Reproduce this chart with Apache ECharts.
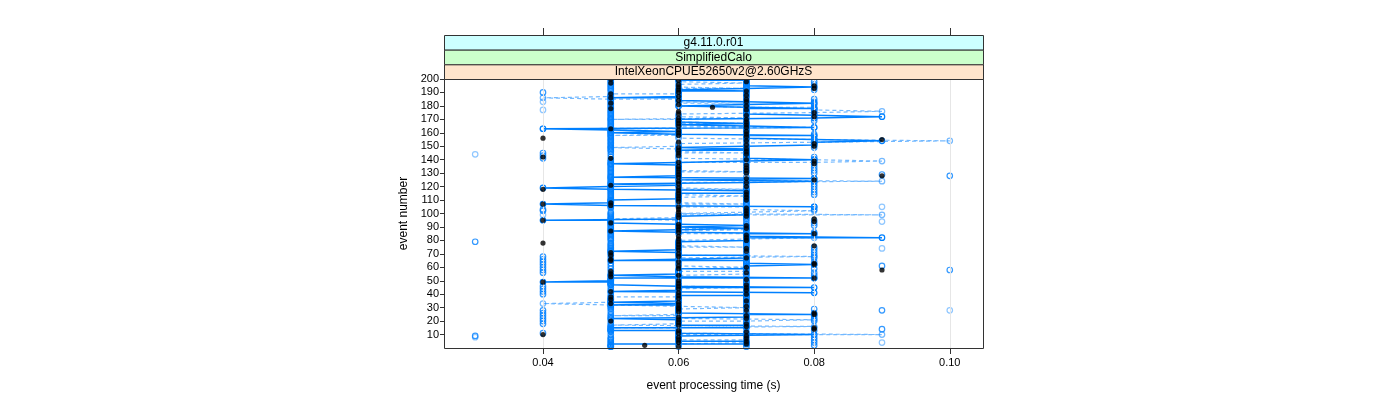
<!DOCTYPE html>
<html><head><meta charset="utf-8">
<script src="https://cdn.jsdelivr.net/npm/echarts@6/dist/echarts.min.js"></script>
<style>html,body{margin:0;padding:0;background:#fff}#c{width:1400px;height:400px}</style>
</head><body><div id="c"></div>
<script>
// ---- data (event processing time in seconds, event 1..200) ----
const stripLabels = ['g4.11.0.r01', 'SimplifiedCalo', 'IntelXeonCPUE52650v2@2.60GHzS'];
const xTicks = [0.04, 0.06, 0.08, 0.10];
const yTicks = [10,20,30,40,50,60,70,80,90,100,110,120,130,140,150,160,170,180,190,200];
const events = Array.from({length: 200}, (_, i) => i + 1);

// run drawn with solid step line + open circles
const solidRun = [
0.05,0.05,0.07,0.07,0.06,0.06,0.06,0.06,0.06,0.08,
0.06,0.06,0.05,0.05,0.07,0.07,0.06,0.06,0.06,0.06,
0.06,0.05,0.07,0.07,0.08,0.06,0.06,0.06,0.06,0.06,
0.06,0.05,0.06,0.05,0.06,0.06,0.06,0.06,0.07,0.07,
0.08,0.05,0.06,0.06,0.08,0.06,0.05,0.05,0.04,0.05,
0.05,0.08,0.06,0.05,0.06,0.06,0.06,0.06,0.07,0.07,
0.07,0.08,0.07,0.07,0.05,0.06,0.07,0.07,0.06,0.06,
0.06,0.05,0.06,0.06,0.06,0.06,0.06,0.06,0.06,0.07,
0.07,0.09,0.07,0.07,0.08,0.06,0.05,0.06,0.07,0.06,
0.07,0.06,0.05,0.05,0.04,0.06,0.06,0.06,0.07,0.07,
0.07,0.07,0.07,0.07,0.08,0.05,0.04,0.05,0.05,0.05,
0.06,0.06,0.06,0.06,0.07,0.07,0.07,0.05,0.04,0.05,
0.06,0.05,0.07,0.08,0.06,0.08,0.05,0.06,0.06,0.06,
0.06,0.06,0.06,0.06,0.06,0.06,0.05,0.06,0.07,0.08,
0.07,0.07,0.07,0.07,0.07,0.07,0.06,0.07,0.06,0.07,
0.08,0.08,0.08,0.09,0.08,0.07,0.07,0.08,0.06,0.05,
0.06,0.05,0.04,0.08,0.07,0.06,0.07,0.06,0.06,0.06,
0.08,0.09,0.08,0.07,0.07,0.07,0.07,0.08,0.07,0.06,
0.07,0.08,0.07,0.06,0.06,0.05,0.06,0.06,0.06,0.06,
0.07,0.06,0.07,0.08,0.07,0.07,0.07,0.07,0.06,0.07];

// run drawn with dashed step line + light open circles
const dashedRun = [
0.06,0.06,0.06,0.07,0.07,0.06,0.06,0.06,0.06,0.09,
0.06,0.06,0.06,0.06,0.05,0.08,0.05,0.06,0.06,0.07,
0.08,0.06,0.06,0.05,0.06,0.06,0.06,0.06,0.06,0.07,
0.06,0.05,0.04,0.05,0.05,0.05,0.05,0.06,0.06,0.06,
0.06,0.06,0.06,0.06,0.07,0.06,0.06,0.06,0.06,0.06,
0.06,0.06,0.06,0.06,0.07,0.07,0.06,0.06,0.06,0.07,
0.06,0.06,0.06,0.06,0.06,0.06,0.06,0.08,0.06,0.06,
0.06,0.06,0.06,0.06,0.07,0.06,0.06,0.06,0.06,0.06,
0.07,0.08,0.07,0.07,0.06,0.06,0.06,0.07,0.06,0.06,
0.06,0.06,0.06,0.06,0.06,0.05,0.06,0.06,0.09,0.06,
0.07,0.08,0.07,0.07,0.06,0.06,0.07,0.06,0.06,0.06,
0.06,0.06,0.07,0.06,0.06,0.06,0.06,0.07,0.06,0.06,
0.06,0.06,0.06,0.09,0.06,0.06,0.06,0.06,0.06,0.06,
0.07,0.06,0.06,0.06,0.06,0.06,0.06,0.08,0.09,0.08,
0.06,0.06,0.06,0.06,0.07,0.06,0.06,0.06,0.05,0.06,
0.06,0.06,0.08,0.10,0.08,0.06,0.06,0.05,0.06,0.06,
0.06,0.06,0.04,0.08,0.06,0.06,0.07,0.06,0.06,0.05,
0.07,0.06,0.06,0.06,0.08,0.09,0.08,0.08,0.07,0.06,
0.06,0.07,0.06,0.06,0.05,0.04,0.05,0.05,0.06,0.06,
0.06,0.06,0.07,0.06,0.06,0.06,0.07,0.06,0.06,0.06];

// run drawn with black filled dots
const blackRun = [
0.06,0.055,0.07,0.06,0.07,0.06,0.07,0.06,0.07,0.04,
0.06,0.07,0.06,0.08,0.08,0.07,0.06,0.07,0.06,0.05,
0.06,0.07,0.06,0.07,0.08,0.08,0.06,0.07,0.06,0.06,
0.07,0.06,0.05,0.06,0.07,0.05,0.06,0.05,0.06,0.07,
0.06,0.05,0.07,0.06,0.07,0.06,0.07,0.06,0.04,0.06,
0.07,0.08,0.05,0.06,0.05,0.07,0.05,0.09,0.06,0.07,
0.06,0.08,0.08,0.06,0.05,0.05,0.07,0.06,0.05,0.06,
0.05,0.07,0.06,0.07,0.06,0.08,0.06,0.04,0.06,0.07,
0.06,0.07,0.06,0.07,0.08,0.06,0.05,0.06,0.07,0.06,
0.07,0.06,0.05,0.08,0.04,0.08,0.06,0.07,0.06,0.07,
0.06,0.07,0.06,0.07,0.06,0.05,0.04,0.05,0.06,0.07,
0.06,0.07,0.06,0.07,0.06,0.07,0.06,0.04,0.06,0.07,
0.05,0.06,0.07,0.06,0.08,0.07,0.06,0.09,0.06,0.07,
0.06,0.07,0.06,0.07,0.06,0.07,0.08,0.06,0.08,0.07,
0.05,0.04,0.06,0.07,0.06,0.07,0.06,0.07,0.06,0.08,
0.07,0.08,0.06,0.07,0.09,0.04,0.07,0.06,0.07,0.06,
0.07,0.06,0.05,0.07,0.06,0.07,0.06,0.07,0.06,0.07,
0.06,0.08,0.07,0.06,0.08,0.06,0.07,0.05,0.065,0.07,
0.06,0.05,0.07,0.06,0.07,0.05,0.06,0.07,0.05,0.06,
0.07,0.06,0.08,0.06,0.08,0.06,0.05,0.07,0.06,0.05];

// further runs drawn as open circles only
const circleRunA = [
0.05,0.05,0.05,0.05,0.05,0.05,0.05,0.05,0.03,0.05,
0.04,0.05,0.05,0.05,0.05,0.05,0.05,0.04,0.05,0.04,
0.05,0.04,0.05,0.04,0.05,0.04,0.05,0.04,0.05,0.05,
0.05,0.05,0.05,0.05,0.05,0.05,0.05,0.05,0.05,0.04,
0.05,0.04,0.05,0.04,0.05,0.04,0.05,0.05,0.05,0.05,
0.05,0.05,0.05,0.05,0.05,0.04,0.05,0.04,0.05,0.04,
0.05,0.04,0.05,0.04,0.05,0.04,0.05,0.04,0.05,0.05,
0.05,0.05,0.05,0.05,0.05,0.05,0.05,0.05,0.03,0.05,
0.05,0.05,0.05,0.05,0.05,0.05,0.05,0.05,0.05,0.05,
0.05,0.05,0.05,0.05,0.05,0.05,0.05,0.05,0.05,0.05,
0.05,0.04,0.04,0.05,0.05,0.05,0.05,0.05,0.05,0.05,
0.05,0.05,0.05,0.05,0.05,0.05,0.05,0.05,0.05,0.05,
0.05,0.05,0.05,0.05,0.05,0.05,0.05,0.05,0.05,0.05,
0.05,0.05,0.05,0.05,0.05,0.05,0.05,0.05,0.05,0.05,
0.04,0.05,0.04,0.05,0.04,0.05,0.05,0.05,0.05,0.05,
0.05,0.05,0.05,0.05,0.05,0.05,0.05,0.05,0.05,0.05,
0.05,0.05,0.05,0.05,0.05,0.05,0.05,0.05,0.05,0.05,
0.05,0.05,0.05,0.05,0.05,0.05,0.05,0.05,0.05,0.05,
0.05,0.05,0.05,0.05,0.05,0.05,0.05,0.05,0.05,0.04,
0.05,0.05,0.05,0.05,0.05,0.05,0.05,0.05,0.05,0.05];

const circleRunB = [
0.07,0.08,0.07,0.08,0.07,0.08,0.07,0.08,0.07,0.07,
0.07,0.07,0.08,0.09,0.08,0.07,0.07,0.07,0.07,0.08,
0.07,0.08,0.07,0.08,0.07,0.08,0.07,0.09,0.08,0.07,
0.07,0.07,0.07,0.07,0.07,0.07,0.07,0.07,0.07,0.07,
0.07,0.07,0.07,0.07,0.07,0.07,0.07,0.07,0.07,0.07,
0.07,0.08,0.07,0.08,0.07,0.08,0.07,0.10,0.08,0.07,
0.09,0.08,0.07,0.08,0.07,0.07,0.08,0.07,0.08,0.07,
0.08,0.07,0.08,0.07,0.08,0.07,0.07,0.07,0.07,0.07,
0.07,0.07,0.07,0.08,0.07,0.08,0.07,0.07,0.07,0.07,
0.08,0.07,0.08,0.07,0.08,0.07,0.07,0.07,0.07,0.07,
0.07,0.07,0.08,0.07,0.08,0.07,0.07,0.07,0.07,0.07,
0.07,0.07,0.07,0.08,0.07,0.08,0.07,0.08,0.07,0.08,
0.07,0.08,0.07,0.08,0.07,0.08,0.07,0.10,0.09,0.08,
0.07,0.08,0.07,0.08,0.07,0.08,0.07,0.08,0.07,0.08,
0.07,0.08,0.07,0.07,0.07,0.07,0.07,0.07,0.08,0.07,
0.08,0.07,0.08,0.07,0.08,0.07,0.08,0.07,0.08,0.07,
0.07,0.07,0.07,0.07,0.07,0.07,0.07,0.07,0.08,0.07,
0.08,0.07,0.08,0.07,0.08,0.07,0.08,0.07,0.08,0.07,
0.08,0.07,0.08,0.07,0.08,0.07,0.07,0.07,0.07,0.07,
0.07,0.08,0.07,0.08,0.07,0.08,0.07,0.08,0.07,0.07];

// isolated light circles
const lightX = [0.03, 0.03, 0.04, 0.04, 0.04, 0.09, 0.09, 0.09, 0.09, 0.10];
const lightY = [144, 8, 183, 177, 99, 105, 94, 74, 4, 28];

// ---- chart ----
const BLUE = '#0080ff';
const LIGHT = 'rgba(0,128,255,0.55)';
const pairs = arr => arr.map((v, i) => [v, events[i]]);
const G = {left: 444, top: 79, width: 539, height: 269};
const FONT = 'Liberation Sans, Arial, sans-serif';

const chart = echarts.init(document.getElementById('c'));
const openCircle = (color, w) => ({color: 'rgba(0,0,0,0)', borderColor: color, borderWidth: w});

const graphics = [];
stripLabels.forEach((t, i) => {
  const fills = ['#ccffff', '#ccffcc', '#ffe5cc'];
  const y = 35 + i * 14.67;
  graphics.push({type: 'rect', z: 50, shape: {x: G.left + 0.5, y: y + 0.5, width: G.width, height: 14.67},
    style: {fill: fills[i], stroke: '#333', lineWidth: 1}});
  graphics.push({type: 'text', z: 51, x: G.left + G.width / 2, y: y + 7.8,
    style: {text: t, font: '12px ' + FONT, fill: '#000', align: 'center', verticalAlign: 'middle'}});
});
graphics.push({type: 'rect', z: 60, silent: true, shape: {x: G.left + 0.5, y: G.top + 0.5, width: G.width, height: G.height},
  style: {fill: null, stroke: '#333', lineWidth: 1}});

chart.setOption({
  animation: false,
  backgroundColor: '#fff',
  textStyle: {fontFamily: FONT},
  grid: {left: G.left, top: G.top, width: G.width, height: G.height, containLabel: false},
  xAxis: [{
    type: 'value', min: 0.0254, max: 0.1049, position: 'bottom',
    axisLine: {show: false},
    axisTick: {show: true, customValues: xTicks, length: 6, lineStyle: {color: '#333'}},
    axisLabel: {customValues: xTicks, formatter: v => v.toFixed(2), color: '#000', fontSize: 11, margin: 9},
    splitLine: {show: false},
    name: 'event processing time (s)', nameLocation: 'middle', nameGap: 32,
    nameTextStyle: {fontSize: 12, color: '#000'}
  }, {
    type: 'value', min: 0.0254, max: 0.1049, position: 'top', offset: 44,
    axisLine: {show: false},
    axisTick: {show: true, customValues: xTicks, length: 7, lineStyle: {color: '#333'}},
    axisLabel: {show: false}, splitLine: {show: false}
  }],
  yAxis: {
    type: 'value', min: 0, max: 200,
    axisLine: {show: false},
    axisTick: {show: true, customValues: yTicks, length: 4, lineStyle: {color: '#333'}},
    axisLabel: {customValues: yTicks, color: '#000', fontSize: 11, margin: 5},
    splitLine: {show: false},
    name: 'event number', nameLocation: 'middle', nameGap: 34, nameRotate: 90,
    nameTextStyle: {fontSize: 12, color: '#000'}
  },
  graphic: graphics,
  series: [
    {type: 'line', data: [], z: 1, silent: true,
     markLine: {silent: true, symbol: 'none', label: {show: false},
       lineStyle: {color: '#e6e6e6', type: 'solid', width: 1},
       data: xTicks.map(v => ({xAxis: v}))}},
    {type: 'scatter', data: pairs(circleRunA), z: 2, symbol: 'circle', symbolSize: 5.5, silent: true,
     itemStyle: openCircle(BLUE, 1.2)},
    {type: 'scatter', data: pairs(circleRunB), z: 2, symbol: 'circle', symbolSize: 5.5, silent: true,
     itemStyle: openCircle(BLUE, 1.2)},
    {type: 'scatter', data: lightX.map((v, i) => [v, lightY[i]]), z: 2, symbol: 'circle', symbolSize: 5.5, silent: true,
     itemStyle: openCircle(LIGHT, 1.2)},
    {type: 'line', data: pairs(dashedRun), z: 3, silent: true, step: 'start', symbol: 'circle', symbolSize: 5.5, showAllSymbol: true,
     lineStyle: {color: LIGHT, width: 1.2, type: [4, 3]}, itemStyle: openCircle(LIGHT, 1.2)},
    {type: 'line', data: pairs(solidRun), z: 4, silent: true, step: 'start', symbol: 'circle', symbolSize: 5.5, showAllSymbol: true,
     lineStyle: {color: BLUE, width: 1.5}, itemStyle: openCircle(BLUE, 1.2)},
    {type: 'scatter', data: pairs(blackRun), z: 5, symbol: 'circle', symbolSize: 5.2, silent: true,
     itemStyle: {color: '#000'}}
  ]
});
</script></body></html>
